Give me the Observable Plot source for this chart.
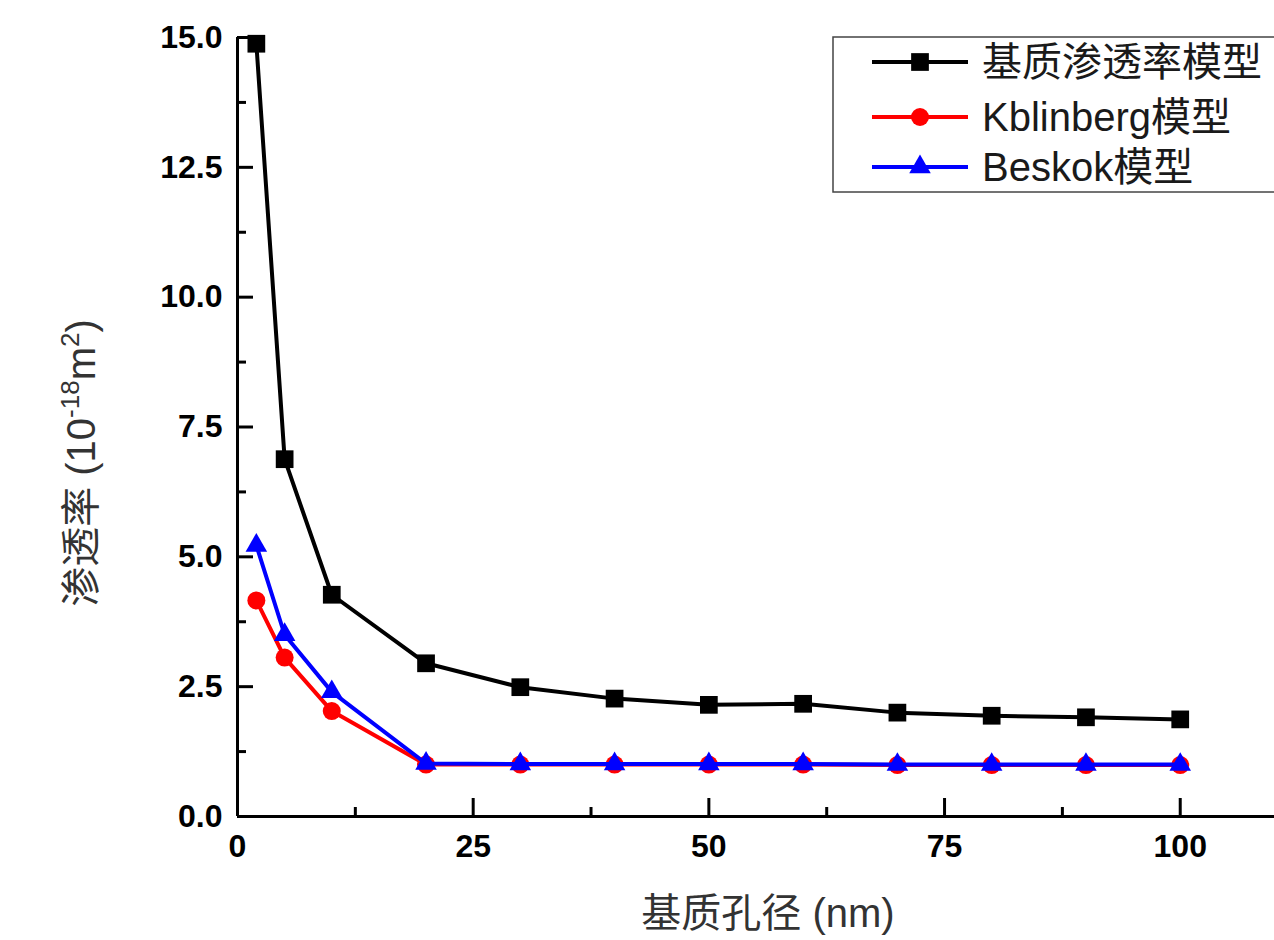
<!DOCTYPE html>
<html><head><meta charset="utf-8">
<script src="https://cdn.jsdelivr.net/npm/d3@7"></script>
<script src="https://cdn.jsdelivr.net/npm/@observablehq/plot@0.6"></script>
<style>body{margin:0;background:#fff}#chart{position:relative;width:1274px;height:940px}</style>
</head><body><div id="chart"></div>
<script>
// ---- data ----
const poreSize = [2, 5, 10, 20, 30, 40, 50, 60, 70, 80, 90, 100];
const matrixPerm = [14.88, 6.88, 4.27, 2.95, 2.49, 2.27, 2.15, 2.17, 2.00, 1.94, 1.91, 1.87];
const klinkenbergPerm = [4.16, 3.06, 2.03, 1.00, 1.00, 1.00, 1.00, 1.00, 0.99, 0.99, 0.99, 0.99];
const beskokPerm = [5.22, 3.50, 2.40, 1.02, 1.01, 1.01, 1.01, 1.01, 1.00, 1.00, 1.00, 1.00];
const seriesNames = ["基质渗透率模型", "Kblinberg模型", "Beskok模型"];
const seriesColors = ["#000000", "#ff0000", "#0000ff"];
const seriesSymbols = ["square", "circle", "triangle"];
const xMajorTicks = [0, 25, 50, 75, 100];
const xMinorTicks = [12.5, 37.5, 62.5, 87.5];
const yMajorTicks = [0, 2.5, 5, 7.5, 10, 12.5, 15];
const yMinorTicks = [1.25, 3.75, 6.25, 8.75, 11.25, 13.75];
const xLabel = "基质孔径 (nm)";

const W = 1274, H = 940, ML = 237, MR = 0, MT = 37, MB = 124;
const frameW = W - ML - MR, frameH = H - MT - MB;

const seriesValues = [matrixPerm, klinkenbergPerm, beskokPerm];
const symbolR = {square: 10, circle: 9, triangle: 8};

const seriesMarks = seriesNames.flatMap((name, i) => {
  const rows = poreSize.map((x, j) => ({x, y: seriesValues[i][j], series: name}));
  return [
    Plot.line(rows, {x: "x", y: "y", stroke: seriesColors[i], strokeWidth: 4}),
    Plot.dot(rows, {x: "x", y: "y", fill: seriesColors[i], stroke: "none", symbol: seriesSymbols[i], r: symbolR[seriesSymbols[i]]})
  ];
});

const plot = Plot.plot({
  width: W, height: H,
  marginLeft: ML, marginRight: MR, marginTop: MT, marginBottom: MB,
  x: {domain: [0, 110], label: null},
  y: {domain: [0, 15], label: null},
  style: {fontFamily: "'Liberation Sans', Arial, sans-serif", fontSize: "32px", fontWeight: "bold", color: "#000", background: "#fff", overflow: "visible"},
  marks: [
    Plot.axisX(xMajorTicks, {tickSize: 0, tickPadding: 18, tickFormat: d => String(d), label: null}),
    Plot.axisY(yMajorTicks, {tickSize: 0, tickPadding: 15, tickFormat: d3.format(".1f"), label: null}),
    Plot.tickX(xMajorTicks, {x: d => d, strokeWidth: 3, insetTop: frameH - 18}),
    Plot.tickX(xMinorTicks, {x: d => d, strokeWidth: 3, insetTop: frameH - 9}),
    Plot.tickY(yMajorTicks, {y: d => d, strokeWidth: 3, insetRight: frameW - 16}),
    Plot.tickY(yMinorTicks, {y: d => d, strokeWidth: 3, insetRight: frameW - 9}),
    Plot.ruleX([0], {strokeWidth: 3}),
    Plot.ruleY([0], {strokeWidth: 3}),
    ...seriesMarks
  ]
});
document.getElementById("chart").appendChild(plot);

// ---- axis titles and legend ----
const svg = d3.select(plot);
const g = svg.append("g").attr("font-family", "'Liberation Sans', 'Noto Sans CJK SC', sans-serif")
  .attr("font-weight", "normal");

g.append("text").attr("x", 768).attr("y", 927).attr("text-anchor", "middle")
  .attr("font-size", 40).attr("fill", "#333").text(xLabel);

const yl = g.append("text").attr("transform", "translate(95,463) rotate(-90)")
  .attr("text-anchor", "middle").attr("font-size", 40).attr("fill", "#333");
yl.append("tspan").text("渗透率 (10");
yl.append("tspan").attr("dy", -16).attr("font-size", 26).text("-18");
yl.append("tspan").attr("dy", 16).text("m");
yl.append("tspan").attr("dy", -16).attr("font-size", 26).text("2");
yl.append("tspan").attr("dy", 16).text(")");

const lg = g.append("g");
lg.append("rect").attr("x", 833).attr("y", 37).attr("width", 460).attr("height", 155)
  .attr("fill", "#fff").attr("stroke", "#444").attr("stroke-width", 1.5);
const rowY = [62, 117, 167];
const d3Sym = {square: d3.symbolSquare, circle: d3.symbolCircle, triangle: d3.symbolTriangle};
seriesNames.forEach((name, i) => {
  const y = rowY[i];
  lg.append("line").attr("x1", 872).attr("x2", 968).attr("y1", y).attr("y2", y)
    .attr("stroke", seriesColors[i]).attr("stroke-width", 4);
  const r = symbolR[seriesSymbols[i]];
  lg.append("path").attr("transform", `translate(920,${y})`)
    .attr("d", d3.symbol(d3Sym[seriesSymbols[i]], Math.PI * r * r)())
    .attr("fill", seriesColors[i]);
  lg.append("text").attr("x", 982).attr("y", y).attr("dy", "0.36em").attr("text-anchor", "start")
    .attr("font-size", 40).attr("fill", "#1a1a1a").text(name);
});
</script></body></html>
